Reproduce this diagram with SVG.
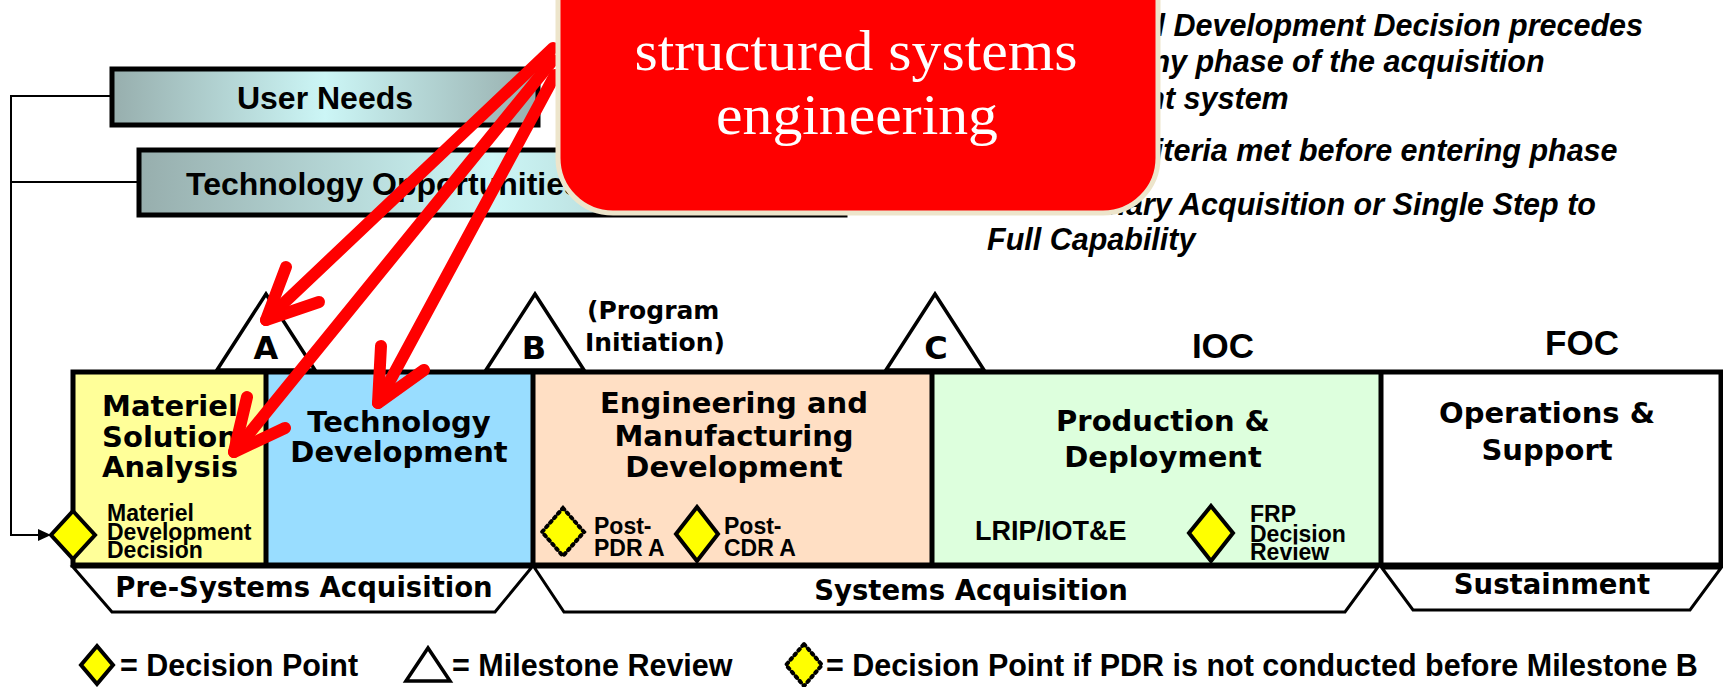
<svg xmlns="http://www.w3.org/2000/svg" width="1723" height="687" viewBox="0 0 1723 687">
<defs>
<linearGradient id="boxgrad" x1="0" y1="0" x2="1" y2="0">
<stop offset="0" stop-color="#97AEAD"/>
<stop offset="0.5" stop-color="#CCF6F6"/>
<stop offset="1" stop-color="#97AEAD"/>
</linearGradient>
<style>
.inbox{stroke:#000;stroke-width:5}
.ph{font-family:"DejaVu Sans",Verdana,sans-serif;font-weight:bold;font-size:29px;text-anchor:middle;fill:#000}
.sm{font-family:"Liberation Sans",Arial,sans-serif;font-weight:bold;font-size:23px;fill:#000}
.ms{fill:#fff;stroke:#000;stroke-width:3.5;stroke-linejoin:miter}
.msl{font-family:"DejaVu Sans",Verdana,sans-serif;font-weight:bold;font-size:32px;text-anchor:middle}
.dp{fill:#FFFF00;stroke:#000;stroke-width:4}
.dpd{fill:#FFFF00;stroke:#000;stroke-width:4;stroke-dasharray:2 4;stroke-linecap:round}
.trap{fill:#fff;stroke:#000;stroke-width:3}
.tl{font-family:"DejaVu Sans",Verdana,sans-serif;font-weight:bold;font-size:27.5px;text-anchor:middle}
.note{font-family:"Liberation Sans",Arial,sans-serif;font-weight:bold;font-style:italic;font-size:30.5px}
.leg{font-family:"Liberation Sans",Arial,sans-serif;font-weight:bold;font-size:30.5px}
.conn{fill:none;stroke:#000;stroke-width:2}
.red{fill:none;stroke:#FF0000;stroke-width:12;stroke-linecap:round;stroke-linejoin:round}
</style>
</defs>
<rect width="1723" height="687" fill="#fff"/>

<g id="notes">
<text class="note" x="955" y="36">•</text>
<text class="note" x="987" y="36">The Materiel Development Decision precedes</text>
<text class="note" x="987" y="72">entry into any phase of the acquisition</text>
<text class="note" x="987" y="109">management system</text>
<text class="note" x="955" y="161">•</text>
<text class="note" x="987" y="161">Entrance criteria met before entering phase</text>
<text class="note" x="955" y="215">•</text>
<text class="note" x="987" y="215">Evolutionary Acquisition or Single Step to</text>
<text class="note" x="987" y="250">Full Capability</text>
</g>

<g id="user-needs">
<rect x="112" y="69" width="426" height="56" fill="url(#boxgrad)" class="inbox"/>
<text x="325" y="109" font-family="Liberation Sans, Arial, sans-serif" font-weight="bold" font-size="32" text-anchor="middle">User Needs</text>
</g>

<g id="technology-opportunities">
<rect x="139" y="150" width="706" height="65" fill="url(#boxgrad)" class="inbox"/>
<text x="186" y="195" font-family="Liberation Sans, Arial, sans-serif" font-weight="bold" font-size="32">Technology Opportunities &amp; Resources</text>
</g>

<g id="phase-msa">
<rect x="73" y="372" width="193" height="193" fill="#FFFF99"/>
<text class="ph" x="170" y="416">Materiel</text>
<text class="ph" x="170" y="447">Solution</text>
<text class="ph" x="170" y="477">Analysis</text>
<text class="sm" x="107" y="521">Materiel</text>
<text class="sm" x="107" y="540">Development</text>
<text class="sm" x="107" y="558">Decision</text>
</g>

<g id="phase-td">
<rect x="266" y="372" width="267" height="193" fill="#99DDFF"/>
<text class="ph" x="399" y="432">Technology</text>
<text class="ph" x="399" y="462">Development</text>
</g>

<g id="phase-emd">
<rect x="533" y="372" width="399" height="193" fill="#FFDFC4"/>
<text class="ph" x="734" y="413">Engineering and</text>
<text class="ph" x="734" y="446">Manufacturing</text>
<text class="ph" x="734" y="477">Development</text>
<text class="sm" x="594" y="534" font-size="23.5">Post-</text>
<text class="sm" x="594" y="556" font-size="23.5">PDR A</text>
<text class="sm" x="724" y="534" font-size="23.5">Post-</text>
<text class="sm" x="724" y="556" font-size="23.5">CDR A</text>
</g>

<g id="phase-pd">
<rect x="932" y="372" width="449" height="193" fill="#DDFFDD"/>
<text class="ph" x="1163" y="431">Production &amp;</text>
<text class="ph" x="1163" y="467">Deployment</text>
<text x="975" y="540" font-family="Liberation Sans, Arial, sans-serif" font-weight="bold" font-size="27">LRIP/IOT&amp;E</text>
<text class="sm" x="1250" y="522" font-size="22">FRP</text>
<text class="sm" x="1250" y="542" font-size="22">Decision</text>
<text class="sm" x="1250" y="560" font-size="22">Review</text>
</g>

<g id="phase-os">
<rect x="1381" y="372" width="340" height="193" fill="#FFFFFF"/>
<text class="ph" x="1547" y="423">Operations &amp;</text>
<text class="ph" x="1547" y="460">Support</text>
</g>

<g id="phase-frame">
<rect x="73" y="372" width="1648" height="193" fill="none" class="inbox"/>
<line x1="266" y1="372" x2="266" y2="565" class="inbox"/>
<line x1="533" y1="372" x2="533" y2="565" class="inbox"/>
<line x1="932" y1="372" x2="932" y2="565" class="inbox"/>
<line x1="1381" y1="372" x2="1381" y2="565" class="inbox"/>
</g>

<g id="milestone-a">
<polygon class="ms" points="217,370 266,294 315,370"/>
<text class="msl" x="266" y="359">A</text>
</g>
<g id="milestone-b">
<polygon class="ms" points="486,370 535,294 584,370"/>
<text class="msl" x="534" y="359">B</text>
<text x="587" y="319" font-family="DejaVu Sans, Verdana, sans-serif" font-weight="bold" font-size="25">(Program</text>
<text x="585" y="351" font-family="DejaVu Sans, Verdana, sans-serif" font-weight="bold" font-size="25">Initiation)</text>
</g>
<g id="milestone-c">
<polygon class="ms" points="886,370 935,294 984,370"/>
<text class="msl" x="936" y="359">C</text>
</g>
<g id="ioc">
<text x="1223" y="358" font-family="Liberation Sans, Arial, sans-serif" font-weight="bold" font-size="35" text-anchor="middle">IOC</text>
</g>
<g id="foc">
<text x="1582" y="355" font-family="Liberation Sans, Arial, sans-serif" font-weight="bold" font-size="35" text-anchor="middle">FOC</text>
</g>

<g id="decision-mdd">
<polygon class="dp" points="73,511 95,535 73,559 51,535"/>
</g>
<g id="decision-post-pdr">
<polygon class="dpd" points="563,508 584,532 563,556 542,532"/>
</g>
<g id="decision-post-cdr">
<polygon class="dp" points="697,507 718,534 697,561 676,534"/>
</g>
<g id="decision-frp">
<polygon class="dp" points="1211,506 1233,533 1211,561 1189,533"/>
</g>

<g id="pre-systems-acquisition">
<polygon class="trap" points="73,567 112,612 495,612 532,567"/>
<text class="tl" x="304" y="597">Pre-Systems Acquisition</text>
</g>
<g id="systems-acquisition">
<polygon class="trap" points="534,567 564,612 1345,612 1378,567"/>
<text class="tl" x="971" y="600">Systems Acquisition</text>
</g>
<g id="sustainment">
<polygon class="trap" points="1382,568 1413,610 1690,610 1721,568"/>
<text class="tl" x="1552" y="594">Sustainment</text>
</g>

<g id="legend">
<polygon class="dp" points="97,646 113,665 97,684 81,665" stroke-width="3"/>
<text class="leg" x="120" y="676">= Decision Point</text>
<polygon class="ms" points="406,681 428,648 450,681" stroke-width="3"/>
<text class="leg" x="452" y="676">= Milestone Review</text>
<polygon class="dpd" points="804,644 822,665 804,686 786,665" stroke-width="3"/>
<text class="leg" x="826" y="676">= Decision Point if PDR is not conducted before Milestone B</text>
</g>

<g id="connectors">
<polyline class="conn" points="110,96 11,96 11,535 40,535"/>
<line class="conn" x1="11" y1="182" x2="137" y2="182"/>
<polygon points="38,529 51,535 38,541" fill="#000"/>
<line class="red" x1="553" y1="48" x2="266" y2="320"/>
<polyline class="red" points="319,302 266,320 286,267"/>
<line class="red" x1="553" y1="60" x2="234" y2="452"/>
<polyline class="red" points="285,428 234,452 247,397"/>
<line class="red" x1="555" y1="75" x2="378" y2="403"/>
<polyline class="red" points="424,370 378,403 381,346"/>
</g>

<g id="callout">
<rect x="558" y="-80" width="600" height="293" rx="55" ry="55" fill="#FF0000" stroke="#EDE5CB" stroke-width="5"/>
<text x="856" y="70" font-family="Liberation Serif, Times New Roman, serif" font-size="57" fill="#fff" text-anchor="middle" textLength="443" lengthAdjust="spacingAndGlyphs">structured systems</text>
<text x="857" y="134" font-family="Liberation Serif, Times New Roman, serif" font-size="57" fill="#fff" text-anchor="middle" textLength="282" lengthAdjust="spacingAndGlyphs">engineering</text>
</g>
</svg>
